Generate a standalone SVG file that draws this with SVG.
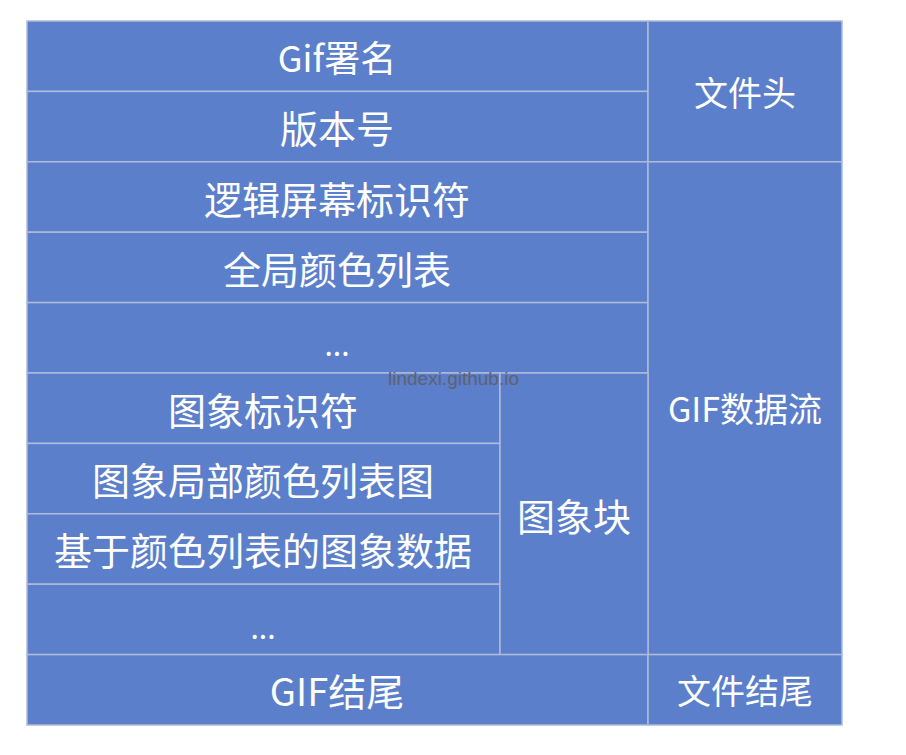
<svg xmlns="http://www.w3.org/2000/svg" width="906" height="755" viewBox="0 0 906 755">
<style>
.cell{fill:#5b7fca;stroke:#aebbd9;stroke-width:1.5}
.t{fill:#ffffff;font-family:"Microsoft YaHei","Noto Sans CJK SC","Noto Sans",sans-serif;text-anchor:middle;dominant-baseline:central}
.l{font-size:38px}
.r{font-size:34px}
.e{font-size:30px}
.wm{fill:#5e6270;font-family:"Liberation Sans","Noto Sans",sans-serif;font-size:19px}
</style>
<rect width="906" height="755" fill="#ffffff"/>
<g id="gif-signature"><rect class="cell" x="27" y="21" width="621" height="70.4"/><text class="t l" x="337" y="56" style="font-size:36px">Gif署名</text></g>
<g id="version"><rect class="cell" x="27" y="91.4" width="621" height="70.4"/><text class="t l" x="337" y="126">版本号</text></g>
<g id="file-header"><rect class="cell" x="648" y="21" width="194" height="140.8"/><text class="t r" x="745" y="91">文件头</text></g>
<g id="logical-screen"><rect class="cell" x="27" y="161.8" width="621" height="70.4"/><text class="t l" x="337" y="197">逻辑屏幕标识符</text></g>
<g id="global-color"><rect class="cell" x="27" y="232.2" width="621" height="70.4"/><text class="t l" x="337" y="267">全局颜色列表</text></g>
<g id="ellipsis1"><rect class="cell" x="27" y="302.6" width="621" height="70.4"/><text class="t e" x="337" y="343">...</text></g>
<g id="gif-stream"><rect class="cell" x="648" y="161.8" width="194" height="492.8"/><text class="t r" x="745" y="407">GIF数据流</text></g>
<g id="image-descriptor"><rect class="cell" x="27" y="373" width="473" height="70.4"/><text class="t l" x="263" y="408">图象标识符</text></g>
<g id="local-color"><rect class="cell" x="27" y="443.4" width="473" height="70.4"/><text class="t l" x="263" y="478">图象局部颜色列表图</text></g>
<g id="image-data"><rect class="cell" x="27" y="513.8" width="473" height="70.4"/><text class="t l" x="263" y="548">基于颜色列表的图象数据</text></g>
<g id="ellipsis2"><rect class="cell" x="27" y="584.2" width="473" height="70.4"/><text class="t e" x="263" y="626">...</text></g>
<g id="image-block"><rect class="cell" x="500" y="373" width="148" height="281.6"/><text class="t l" x="574" y="514">图象块</text></g>
<g id="gif-trailer"><rect class="cell" x="27" y="654.6" width="621" height="70.4"/><text class="t l" x="337" y="689">GIF结尾</text></g>
<g id="file-trailer"><rect class="cell" x="648" y="654.6" width="194" height="70.4"/><text class="t r" x="745" y="689">文件结尾</text></g>
<g id="connectors"></g>
<text class="wm" x="388" y="385">lindexi.github.io</text>
</svg>
